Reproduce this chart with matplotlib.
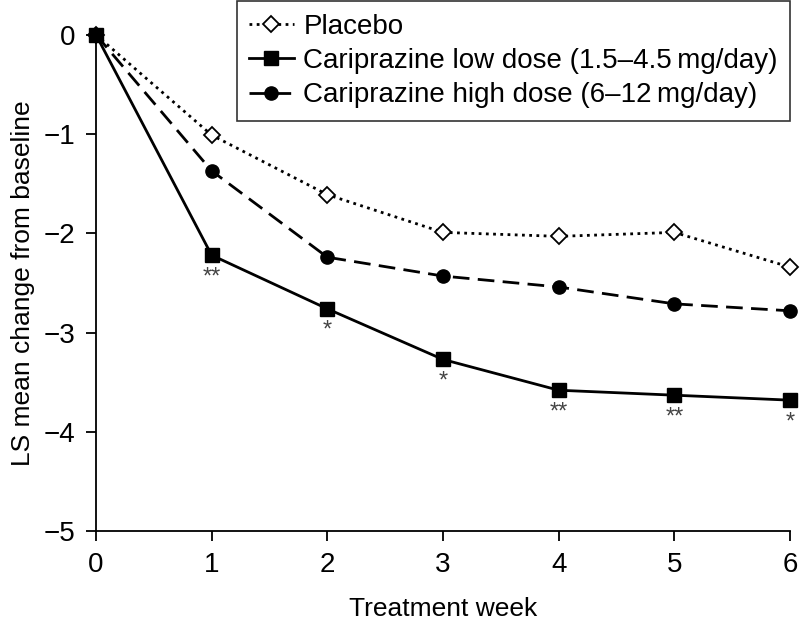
import matplotlib
matplotlib.use("Agg")
import matplotlib.pyplot as plt

# LS mean change from baseline by treatment week
weeks = [0, 1, 2, 3, 4, 5, 6]
placebo = [0, -1.01, -1.61, -1.99, -2.03, -1.99, -2.34]
low_dose = [0, -2.22, -2.76, -3.27, -3.58, -3.63, -3.68]
high_dose = [0, -1.37, -2.24, -2.43, -2.54, -2.71, -2.78]
sig_marks = ["", "**", "*", "*", "**", "**", "*"]   # vs placebo, low dose

LABELS = ["Placebo",
          "Cariprazine low dose (1.5\u20134.5\u2009mg/day)",
          "Cariprazine high dose (6\u201312\u2009mg/day)"]

plt.rcParams["font.family"] = ["Liberation Sans", "DejaVu Sans"]

fig = plt.figure(figsize=(8, 6.22), dpi=100)
ax = fig.add_axes([0.12, 0.146, 0.8675, 0.798])

ax.plot(weeks, placebo, linestyle=(0, (1, 1.6)), lw=2, color="black",
        marker="D", ms=8.5, mfc="white", mec="black", mew=1.3,
        label=LABELS[0], clip_on=False, zorder=3)
ax.plot(weeks, low_dose, linestyle="-", lw=2, color="black",
        marker="s", ms=9.5, mfc="black", label=LABELS[1], clip_on=False, zorder=3)
ax.plot(weeks, high_dose, linestyle=(0, (6, 3)), lw=2, color="black",
        marker="o", ms=9.5, mfc="black", label=LABELS[2], clip_on=False, zorder=3)

for w, v, s in zip(weeks, low_dose, sig_marks):
    if s:
        ax.annotate(s, (w, v), xytext=(0, -8), textcoords="offset points",
                    ha="center", va="top", fontsize=17, color="#444444")

ax.set_xlim(0, 6)
ax.set_ylim(-5, 0)
ax.set_xticks(weeks)
ax.set_yticks([0, -1, -2, -3, -4, -5])
ax.set_yticklabels(["0", "\u22121", "\u22122", "\u22123", "\u22124", "\u22125"])
ax.tick_params(labelsize=20, length=7, width=1.3, direction="out", pad=8)
ax.spines[["top", "right"]].set_visible(False)
ax.spines[["left", "bottom"]].set_linewidth(1.3)

ax.set_xlabel("Treatment week", fontsize=19, labelpad=14)
ax.set_ylabel("LS mean change from baseline", fontsize=19, labelpad=6)

leg = fig.legend(loc="upper right", bbox_to_anchor=(0.988, 0.998), fontsize=20,
                 frameon=True, fancybox=False, edgecolor="black",
                 handlelength=1.6, handletextpad=0.35, labelspacing=0.3,
                 borderpad=0.45, borderaxespad=0.0)
leg.get_frame().set_linewidth(1.2)

fig.savefig("out.png", dpi=100)
